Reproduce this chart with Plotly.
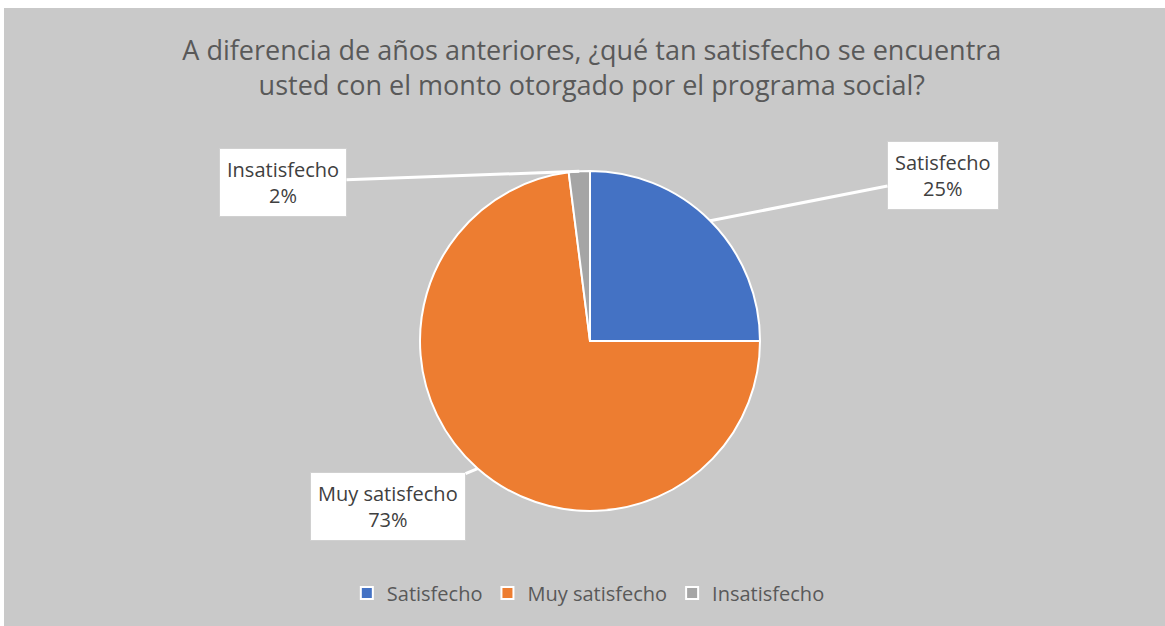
import math
import plotly.graph_objects as go

W, H = 1165, 626

labels = ["Satisfecho", "Muy satisfecho", "Insatisfecho"]
values = [25, 73, 2]
colors = ["#4472c4", "#ed7d31", "#a5a5a5"]
pct_text = ["25%", "73%", "2%"]

title = ("A diferencia de años anteriores, ¿qué tan satisfecho se encuentra<br>"
         "usted con el monto otorgado por el programa social?")

# pie geometry in pixels
cx, cy, r = 590, 341, 170
# label box centres in pixels
box_pos = [(943, 175), (388, 507), (283, 182)]


def px(x):
    return x / W


def py(y):
    return 1 - y / H


fig = go.Figure()
fig.add_trace(go.Pie(
    labels=labels,
    values=values,
    sort=False,
    direction="clockwise",
    rotation=0,
    marker=dict(colors=colors, line=dict(color="white", width=2)),
    textinfo="none",
    hoverinfo="label+percent",
    domain=dict(x=[px(cx - r), px(cx + r)], y=[py(cy + r), py(cy - r)]),
))

# callout labels pointing to the middle of each slice
total = sum(values)
start = 0.0
for lab, val, pct, (bx, by) in zip(labels, values, pct_text, box_pos):
    mid = (start + val / 2) / total * 2 * math.pi
    start += val
    ex = cx + r * math.sin(mid)
    ey = cy - r * math.cos(mid)
    fig.add_annotation(
        x=px(ex), y=py(ey), xref="paper", yref="paper",
        ax=bx - ex, ay=by - ey,
        text=f"{lab}<br>{pct}",
        showarrow=True, arrowhead=0, arrowwidth=3, arrowcolor="white",
        standoff=0, startstandoff=0,
        bgcolor="white", bordercolor="#d0d0d0", borderwidth=1, borderpad=7,
        font=dict(family="Open Sans", size=20, color="#404040"),
        align="center",
    )

fig.add_shape(type="rect", xref="paper", yref="paper",
              x0=px(4), x1=1, y0=0, y1=py(8),
              fillcolor="#c9c9c9", line=dict(width=0), layer="below")

fig.update_layout(
    width=W, height=H,
    margin=dict(l=0, r=0, t=0, b=0),
    paper_bgcolor="white",
    plot_bgcolor="#c9c9c9",
    title=dict(text=title, x=0.508, xanchor="center", y=py(60), yanchor="middle",
               font=dict(family="Open Sans", size=27, color="#595959")),
    legend=dict(orientation="h", x=0.505, xanchor="center", y=py(593), yanchor="middle",
                font=dict(family="Open Sans", size=20, color="#595959"),
                bgcolor="rgba(0,0,0,0)", itemclick=False),
    showlegend=True,
)

fig.write_html("out.html", config={"displayModeBar": False},
               post_script="document.body.style.margin='0';")
